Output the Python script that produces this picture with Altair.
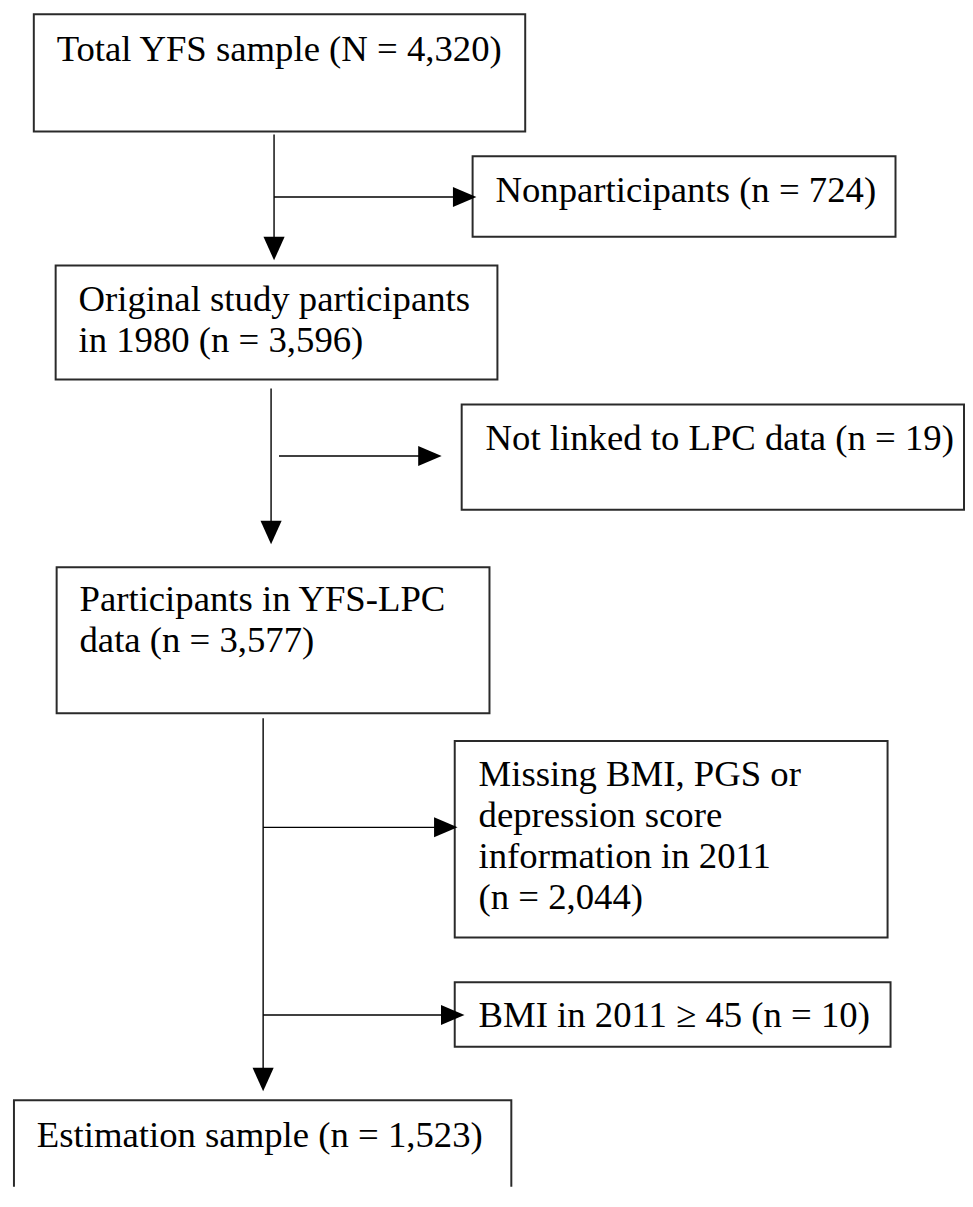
import altair as alt
import pandas as pd

# ---- content -------------------------------------------------------------
counts = [4320, 724, 3596, 19, 3577, 2044, 10, 1523]
templates = [
    ["Total YFS sample (N = {n})"],
    ["Nonparticipants (n = {n})"],
    ["Original study participants", "in 1980 (n = {n})"],
    ["Not linked to LPC data (n = {n})"],
    ["Participants in YFS-LPC", "data (n = {n})"],
    ["Missing BMI, PGS or", "depression score", "information in 2011", "(n = {n})"],
    ["BMI in 2011 \u2265 45 (n = {n})"],
    ["Estimation sample (n = {n})"],
]

# ---- layout (pixel space of the page) -----------------------------------
box_left = [34, 476, 56, 465, 57, 458, 458, 14]
box_right = [529, 902, 501, 971, 493, 894, 897, 515]
box_top = [10, 153, 263, 403, 567, 742, 985, 1104]
box_bottom = [128, 234, 378, 509, 714, 940, 1050, 1260]
text_x = [57, 499, 79, 489, 80, 482, 482, 37]
text_base = [57, 199, 309, 449, 611, 787, 1030, 1151]
line_gap = 41.3

# connector segments: x1, x2, y1, y2
seg_x1 = [276, 273, 265, 276, 281, 265, 265]
seg_x2 = [276, 273, 265, 462, 427, 443, 450]
seg_y1 = [131, 387, 719, 194, 455, 829, 1018]
seg_y2 = [240, 526, 1077, 194, 455, 829, 1018]

# arrow heads: centre x, centre y, direction
head_x = [276, 273, 265, 468, 433, 449, 456]
head_y = [246, 532, 1083, 194, 455, 829, 1018]
head_dir = ["down", "down", "down", "right", "right", "right", "right"]
head_path = {
    "down": "M-0.9,-1L0.9,-1L0,1Z",
    "right": "M-1,-0.85L1,0L-1,0.85Z",
}

W, H = 964, 1183
X0, Y0 = 8, 8

boxes = pd.DataFrame({"x1": box_left, "x2": box_right, "y1": box_top, "y2": box_bottom})

rows = []
for i, (tpl, n) in enumerate(zip(templates, counts)):
    for j, line in enumerate(tpl):
        rows.append({"x": text_x[i], "y": text_base[i] + j * line_gap,
                     "t": line.format(n=f"{n:,}")})
texts = pd.DataFrame(rows)

segs = pd.DataFrame({"x1": seg_x1, "x2": seg_x2, "y1": seg_y1, "y2": seg_y2})
heads = pd.DataFrame({"x": head_x, "y": head_y,
                      "shape": [head_path[d] for d in head_dir]})

xs = alt.Scale(domain=[X0, X0 + W], nice=False, zero=False)
ys = alt.Scale(domain=[Y0, Y0 + H], nice=False, zero=False, reverse=True)

box_layer = alt.Chart(boxes).mark_rect(
    fill="white", stroke="#2a2a2a", strokeWidth=2, clip=True
).encode(
    x=alt.X("x1:Q", scale=xs, axis=None), x2="x2:Q",
    y=alt.Y("y1:Q", scale=ys, axis=None), y2="y2:Q",
)

seg_layer = alt.Chart(segs).mark_rule(
    color="black", strokeWidth=1.4, clip=True
).encode(
    x=alt.X("x1:Q", scale=xs, axis=None), x2="x2:Q",
    y=alt.Y("y1:Q", scale=ys, axis=None), y2="y2:Q",
)

head_layer = alt.Chart(heads).mark_point(
    filled=True, color="black", size=560, opacity=1, strokeWidth=0, clip=True
).encode(
    x=alt.X("x:Q", scale=xs, axis=None),
    y=alt.Y("y:Q", scale=ys, axis=None),
    shape=alt.Shape("shape:N", scale=None, legend=None),
)

text_layer = alt.Chart(texts).mark_text(
    align="left", baseline="alphabetic", font="Liberation Serif",
    fontSize=37, color="black", clip=True
).encode(
    x=alt.X("x:Q", scale=xs, axis=None),
    y=alt.Y("y:Q", scale=ys, axis=None),
    text="t:N",
)

chart = alt.layer(box_layer, seg_layer, head_layer, text_layer).properties(
    width=W, height=H, padding=0, background="white"
).configure_view(stroke=None)

chart.save("out.html", embed_options={"renderer": "svg", "actions": False})
